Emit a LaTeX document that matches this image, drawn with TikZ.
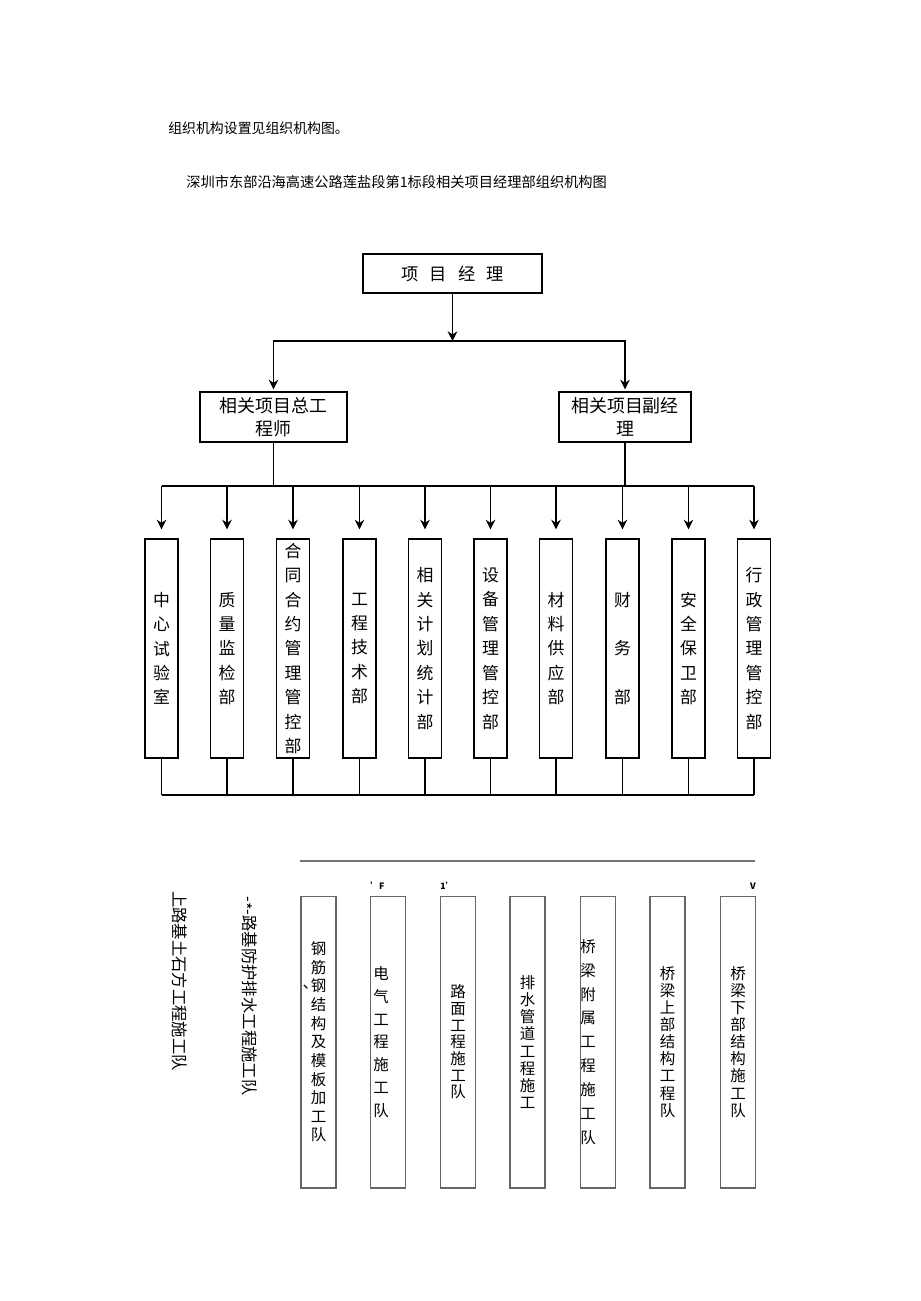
\documentclass[tikz,border=0pt]{standalone}
\usepackage{fontspec}
\setmainfont{Noto Sans CJK SC}
\usetikzlibrary{arrows.meta}

\tikzset{
  head/.style={draw,rectangle,line width=1pt,inner sep=0pt,align=center},
  dept/.style={draw,rectangle,line width=1pt,inner sep=0pt,minimum width=0.66cm,minimum height=4.38cm,align=center,font=\fontsize{9.6pt}{13.9pt}\selectfont},
  team/.style={draw=black!60,rectangle,line width=0.6pt,inner sep=0pt,minimum width=0.7cm,minimum height=5.84cm},
  teamtxt/.style={align=center,inner sep=0pt,font=\fontsize{8.8pt}{#1}\selectfont},
  arr/.style={line width=1pt,-{Stealth[length=5.5pt,width=5.5pt]}},
  link/.style={line width=0.9pt},
  tag/.style={inner sep=0pt,font=\fontsize{5pt}{5pt}\selectfont\bfseries}
}

\begin{document}
\begin{tikzpicture}[x=0.02cm,y=-0.02cm]
\path[fill=white,use as bounding box] (0,0) rectangle (920,1301);
\node[anchor=west,inner sep=0pt,font=\fontsize{7.9pt}{9pt}\selectfont] (intro) at (168,128) {组织机构设置见组织机构图。};
\node[anchor=west,inner sep=0pt,font=\fontsize{8.1pt}{9pt}\selectfont] (title) at (186,182) {深圳市东部沿海高速公路莲盐段第1标段相关项目经理部组织机构图};
\node[head,minimum width=3.58cm,minimum height=0.78cm,font=\fontsize{9.8pt}{11pt}\selectfont] (pm) at (452.5,273.5) {项\hspace{0.65em}目\hspace{0.65em}经\hspace{0.65em}理};
\node[head,minimum width=2.94cm,minimum height=1cm,font=\fontsize{10.2pt}{13.4pt}\selectfont] (chief) at (273.5,417) {相关项目总工\\程师};
\node[head,minimum width=2.64cm,minimum height=1cm,font=\fontsize{10.2pt}{13.4pt}\selectfont] (deputy) at (625,417) {相关项目副经\\理};
\coordinate (split) at (452.5,341);
\draw[arr] (pm.south) -- (split);
\draw[arr,shorten >=1pt] (split) -| (chief.north);
\draw[arr,shorten >=1pt] (split) -| (deputy.north);
\foreach \i/\x/\txt in {1/161.5/{中\\心\\试\\验\\室},
                        2/227/{质\\量\\监\\检\\部},
                        3/293/{合\\同\\合\\约\\管\\理\\管\\控\\部},
                        4/359.5/{工\\程\\技\\术\\部},
                        5/425/{相\\关\\计\\划\\统\\计\\部},
                        6/490.5/{设\\备\\管\\理\\管\\控\\部},
                        7/556/{材\\料\\供\\应\\部},
                        8/622.5/{财\\[13.9pt]务\\[13.9pt]部},
                        9/688.5/{安\\全\\保\\卫\\部},
                        10/754/{行\\政\\管\\理\\管\\控\\部}} {
  \node[dept] (d\i) at (\x,648.5) {\txt};
}
\coordinate (busL) at (273.5,486);
\coordinate (busR) at (625,486);
\draw[link] (chief.south) -- (busL);
\draw[link] (deputy.south) -- (busR);
\draw[link] (busL -| d1) -- (busL -| d6);
\draw[link] (busR -| d6) -- (busR -| d10);
\foreach \i in {1,...,5} {
  \draw[arr,shorten >=5pt] (busL -| d\i) -- (d\i.north);
}
\foreach \i in {6,...,10} {
  \draw[arr,shorten >=5pt] (busR -| d\i) -- (d\i.north);
}
\coordinate (bot) at (456,795);
\foreach \i in {1,...,10} {
  \draw[link] (d\i.south) -- (d\i.south |- bot);
}
\draw[link] (bot -| d1) -- (bot -| d10);
% construction teams
\coordinate (ruleL) at (300,861);
\coordinate (ruleR) at (755,861);
\draw[black!55,line width=0.6pt] (ruleL) -- (ruleR);
\node[rotate=-90,inner sep=0pt,font=\fontsize{9.3pt}{10pt}\selectfont] (side1) at (180,981) {上路基土石方工程施工队};
\node[rotate=-90,inner sep=0pt,font=\fontsize{9.3pt}{10pt}\selectfont] (side2) at (248,996) {-\raisebox{-0.25em}{*}-路基防护排水工程施工队};
\foreach \i/\x in {1/318.5,2/388,3/458,4/527.5,5/598,6/667.5,7/738} {
  \node[team] (t\i) at (\x,1042) {};
}
\node[teamtxt=10.6pt] at (t1) {钢\\筋\\\llap{\raisebox{0.2em}{､}}钢\\结\\构\\及\\模\\板\\加\\工\\队};
\node[teamtxt=13pt,xshift=-0.14cm] at (t2) {电\\气\\工\\程\\施\\工\\队};
\node[teamtxt=9.5pt] at (t3) {路\\面\\工\\程\\施\\工\\队};
\node[teamtxt=9.8pt] at (t4) {排\\水\\管\\道\\工\\程\\施\\工};
\node[teamtxt=13.6pt,xshift=-0.2cm] at (t5) {桥\\梁\\附\\属\\工\\程\\施\\工\\队};
\node[teamtxt=9.7pt] at (t6) {桥\\梁\\上\\部\\结\\构\\工\\程\\队};
\node[teamtxt=9.7pt] at (t7) {桥\\梁\\下\\部\\结\\构\\施\\工\\队};
\node[tag,anchor=south west] at ([yshift=3pt]t2.north west) {'F};
\node[tag,anchor=south west] at ([yshift=3pt]t3.north west) {1'};
\node[tag,anchor=south east] at ([yshift=3pt]t7.north east) {V};
\end{tikzpicture}
\end{document}
